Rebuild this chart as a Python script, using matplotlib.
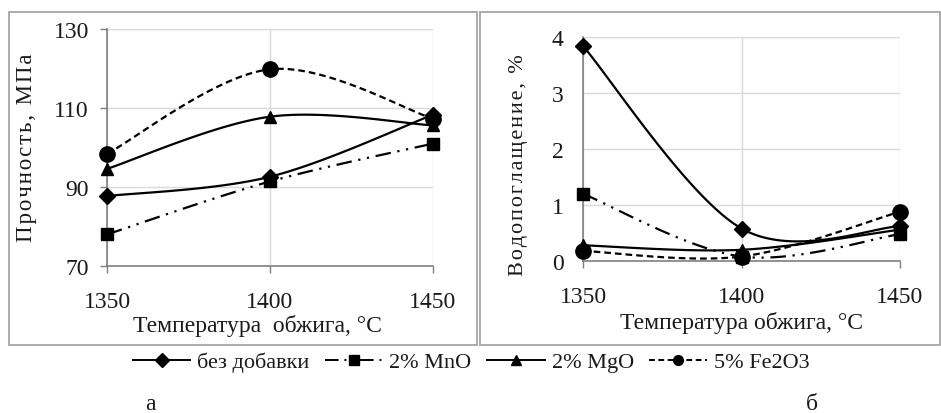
import numpy as np
import matplotlib
matplotlib.use("Agg")
import matplotlib.pyplot as plt
from matplotlib.patches import Rectangle

plt.rcParams.update({
    "font.family": ["Liberation Serif", "DejaVu Serif"],
    "font.size": 15,
    "text.color": "#1a1a1a",
    "axes.edgecolor": "#808080",
    "xtick.color": "#808080",
    "ytick.color": "#808080",
    "xtick.labelcolor": "#1a1a1a",
    "ytick.labelcolor": "#1a1a1a",
})

# ---------------------------------------------------------------------------
# Data
# ---------------------------------------------------------------------------
temps = [1350, 1400, 1450]

labels = ["без добавки", "2% MnO", "2% MgO", "5% Fe2O3"]

strength_none = [87.7, 92.6, 108.3]
strength_mno = [78.0, 91.4, 101.0]
strength_mgo = [94.6, 107.8, 105.6]
strength_fe = [98.4, 119.8, 107.3]

absorb_none = [3.84, 0.58, 0.62]
absorb_mno = [1.20, 0.08, 0.48]
absorb_mgo = [0.28, 0.20, 0.56]
absorb_fe = [0.18, 0.08, 0.88]

markers = ["D", "s", "^", "o"]
msizes = [8, 9, 9, 11]
styles = ["-", (0, (7, 3, 1, 3, 1, 3)), "-", (0, (3, 1.8))]


def smooth(x, y, n=40):
    """Excel-like smoothed line: Catmull-Rom Bezier through the points."""
    x = np.asarray(x, float)
    y = np.asarray(y, float)
    px = np.concatenate([[x[0]], x, [x[-1]]])
    py = np.concatenate([[y[0]], y, [y[-1]]])
    xs, ys = [], []
    t = np.linspace(0, 1, n)
    for i in range(1, len(px) - 2):
        p0 = np.array([px[i], py[i]])
        p3 = np.array([px[i + 1], py[i + 1]])
        p1 = p0 + (np.array([px[i + 1], py[i + 1]]) - np.array([px[i - 1], py[i - 1]])) / 6
        p2 = p3 - (np.array([px[i + 2], py[i + 2]]) - np.array([px[i], py[i]])) / 6
        b = ((1 - t) ** 3)[:, None] * p0 + (3 * (1 - t) ** 2 * t)[:, None] * p1 \
            + (3 * (1 - t) * t ** 2)[:, None] * p2 + (t ** 3)[:, None] * p3
        xs.extend(b[:, 0])
        ys.extend(b[:, 1])
    return xs, ys


def spaced(s, gap="\u200a"):
    return gap.join(s)


W, H = 941, 414
fig = plt.figure(figsize=(W / 100, H / 100), dpi=100)


def fx(px):
    return px / W


def fy(py):
    return 1 - py / H


# panel frames
fig.patches.append(Rectangle((fx(9), fy(346)), fx(468), (346 - 13) / H,
                             transform=fig.transFigure, fill=False,
                             edgecolor="#a6a6a6", linewidth=1.3))
fig.patches.append(Rectangle((fx(480), fy(346)), fx(460), (346 - 13) / H,
                             transform=fig.transFigure, fill=False,
                             edgecolor="#a6a6a6", linewidth=1.3))

ax1 = fig.add_axes([fx(107), fy(267), fx(433 - 107), (267 - 30) / H])
ax2 = fig.add_axes([fx(583), fy(262), fx(900 - 583), (262 - 38) / H])

strength = [strength_none, strength_mno, strength_mgo, strength_fe]
absorb = [absorb_none, absorb_mno, absorb_mgo, absorb_fe]

for ax, series in ((ax1, strength), (ax2, absorb)):
    for i, yv in enumerate(series):
        sx, sy = smooth(temps, yv)
        ax.plot(sx, sy, color="black", linestyle=styles[i], linewidth=1.6,
                zorder=3, clip_on=False)
        ax.plot(temps, yv, linestyle="none", marker=markers[i],
                markersize=msizes[i], color="black", zorder=4, clip_on=False)

handles = []
for i in range(4):
    h, = ax1.plot([], [], color="black", linestyle=styles[i], linewidth=1.4,
                  marker=markers[i], markersize=7)
    handles.append(h)

# axes formatting
ax1.set_xlim(1350, 1450)
ax1.set_ylim(70, 130)
ax1.set_yticks([70, 90, 110, 130])
ax2.set_xlim(1350, 1450)
ax2.set_ylim(0, 4)
ax2.set_yticks([0, 1, 2, 3, 4])

for ax in (ax1, ax2):
    ax.set_xticks(temps)
    ax.grid(True, color="#d9d9d9", linewidth=1.0, zorder=0)
    ax.set_axisbelow(True)
    for s in ("top", "right"):
        ax.spines[s].set_visible(False)
    for s in ("left", "bottom"):
        ax.spines[s].set_linewidth(1.2)
    ax.tick_params(axis="both", length=5, width=1.0, labelsize=17)
    ax.tick_params(axis="x", pad=13)
    ax.tick_params(axis="y", pad=8)

ax2.tick_params(axis="y", length=0, pad=14)

fig.text(fx(257), fy(326), "Температура  обжига, °С", ha="center", va="center",
         fontsize=17)
fig.text(fx(741), fy(323), "Температура обжига, °С", ha="center", va="center",
         fontsize=17)
fig.text(fx(27), fy(148), spaced("Прочность, МПа"), rotation=90, ha="center",
         va="center", fontsize=16.5)
fig.text(fx(518), fy(165), spaced("Водопоглащение, %"), rotation=90,
         ha="center", va="center", fontsize=16)

fig.legend(handles, labels, loc="center", bbox_to_anchor=(fx(471), fy(363)),
           ncol=4, frameon=False, fontsize=16, handlelength=2.6,
           handletextpad=0.3, columnspacing=0.7, borderaxespad=0)

fig.text(fx(150), fy(405), "а", ha="center", va="center", fontsize=17)
fig.text(fx(812), fy(405), "б", ha="center", va="center", fontsize=17)

fig.savefig("out.png", dpi=100)
